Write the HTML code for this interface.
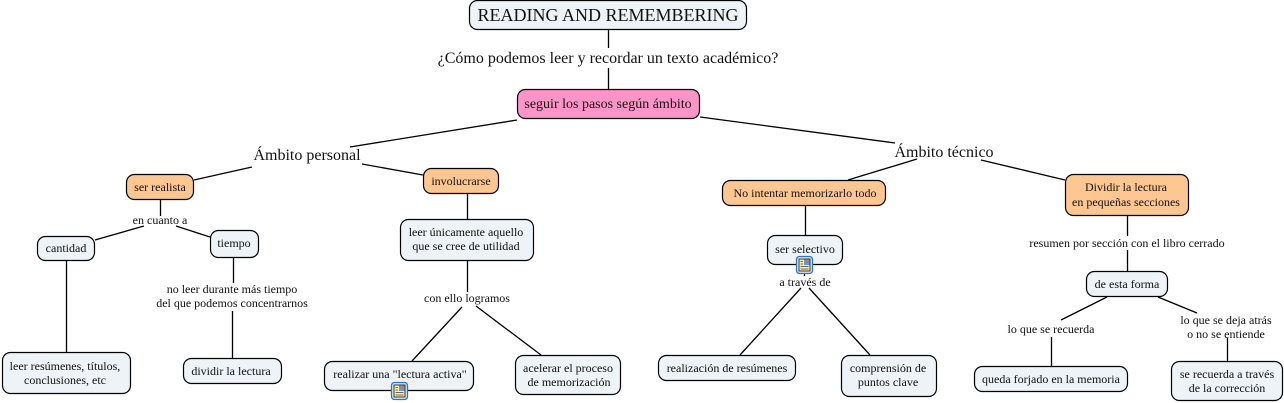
<!DOCTYPE html>
<html><head><meta charset="utf-8"><style>
html,body{margin:0;padding:0;background:#fff;width:1284px;height:403px;overflow:hidden}
svg{display:block}
text{font-family:"Liberation Serif",serif;fill:#111;text-anchor:middle}
.s{font-size:12px}.m{font-size:16px}.t{font-size:18px}.p{font-size:14px}
rect.n{fill:#edf3f6;stroke:#000;stroke-width:1.2}
rect.o{fill:#fec690;stroke:#000;stroke-width:1.2}
rect.k{fill:#ff94c8;stroke:#000;stroke-width:1.2}
line{stroke:#000;stroke-width:1.3}
#ic line{stroke:#444;stroke-width:.8}
</style></head><body>
<svg width="1284" height="403" viewBox="0 0 1284 403" xmlns="http://www.w3.org/2000/svg">
<defs><g id="ic">
<rect x="0.5" y="0.5" width="16" height="17" rx="3" fill="#dfeafa" stroke="#2f74c4" stroke-width="1.3"/>
<rect x="3" y="3" width="11" height="12" fill="#fdf3a8" stroke="#222" stroke-width=".9"/>
<rect x="8" y="3.5" width="5.5" height="5.5" fill="#6f96c4"/>
<rect x="10.5" y="4" width="2" height="2" fill="#d9704f"/>
<line x1="4.5" y1="5.5" x2="7" y2="5.5"/><line x1="4.5" y1="8" x2="7" y2="8"/><line x1="4.5" y1="10.5" x2="12.5" y2="10.5"/><line x1="4.5" y1="13" x2="12.5" y2="13"/>
</g></defs>
<line x1="608.5" y1="30" x2="608.5" y2="48"/><line x1="608.5" y1="68" x2="608.5" y2="89"/>
<line x1="517" y1="120" x2="350" y2="147"/><line x1="700" y1="117" x2="895" y2="143"/>
<line x1="252" y1="167" x2="194" y2="180"/><line x1="362" y1="164" x2="423" y2="175"/>
<line x1="917" y1="159" x2="848" y2="180"/><line x1="981" y1="160" x2="1065" y2="180"/>
<line x1="160.5" y1="199" x2="160.5" y2="216"/><line x1="144" y1="226" x2="95" y2="240"/><line x1="176" y1="226" x2="210" y2="237"/>
<line x1="66.5" y1="260" x2="66.5" y2="352"/><line x1="233.5" y1="257" x2="233.5" y2="283"/><line x1="232.5" y1="311" x2="232.5" y2="358"/>
<line x1="467.5" y1="193" x2="467.5" y2="219"/><line x1="467.5" y1="260" x2="467.5" y2="292"/>
<line x1="462" y1="307" x2="412" y2="361"/><line x1="476" y1="306" x2="541" y2="355"/>
<line x1="805.5" y1="205" x2="805.5" y2="235"/><line x1="804.5" y1="273" x2="804.5" y2="276"/>
<line x1="801" y1="288" x2="740" y2="355"/><line x1="809" y1="288" x2="870" y2="355"/>
<line x1="1127.5" y1="215" x2="1127.5" y2="236"/><line x1="1127.5" y1="250" x2="1127.5" y2="271"/>
<line x1="1107" y1="297" x2="1061" y2="320"/><line x1="1158" y1="297" x2="1197" y2="313"/>
<line x1="1051.5" y1="337" x2="1051.5" y2="366"/><line x1="1227.5" y1="338" x2="1227.5" y2="361"/>

<rect class="n" x="469.5" y="0.5" width="277" height="29" rx="8"/>
<rect class="k" x="517.5" y="89.5" width="182" height="29" rx="8"/>
<rect class="o" x="126.5" y="174.5" width="67" height="25" rx="8"/>
<rect class="n" x="37.5" y="236.5" width="57" height="24" rx="8"/>
<rect class="n" x="210.5" y="230.5" width="48" height="27" rx="8"/>
<rect class="n" x="2.5" y="352.5" width="128" height="41" rx="8"/>
<rect class="n" x="183.5" y="358.5" width="98" height="25" rx="8"/>
<rect class="o" x="423.5" y="168.5" width="75" height="25" rx="8"/>
<rect class="n" x="400.5" y="219.5" width="133" height="41" rx="8"/>
<rect class="n" x="324.5" y="361.5" width="149" height="29" rx="8"/>
<rect class="n" x="515.5" y="355.5" width="105" height="39" rx="8"/>
<rect class="o" x="722.5" y="180.5" width="163" height="25" rx="8"/>
<rect class="n" x="767.5" y="235.5" width="75" height="29" rx="8"/>
<rect class="n" x="658.5" y="355.5" width="137" height="25" rx="8"/>
<rect class="n" x="841.5" y="355.5" width="95" height="41" rx="8"/>
<rect class="o" x="1065.5" y="174.5" width="123" height="41" rx="8"/>
<rect class="n" x="1086.5" y="271.5" width="81" height="25" rx="8"/>
<rect class="n" x="974.5" y="366.5" width="153" height="25" rx="8"/>
<rect class="n" x="1171.5" y="361.5" width="111" height="39" rx="8"/>

<use href="#ic" x="391" y="382"/><use href="#ic" x="796" y="256"/>

<text class="t" x="608" y="21">READING AND REMEMBERING</text>
<text class="m" x="608" y="63">¿Cómo podemos leer y recordar un texto académico?</text>
<text class="p" x="608" y="108">seguir los pasos según ámbito</text>
<text class="m" x="307" y="160">Ámbito personal</text>
<text class="m" x="944" y="157">Ámbito técnico</text>
<text class="s" x="160" y="191">ser realista</text>
<text class="s" x="160" y="224">en cuanto a</text>
<text class="s" x="66" y="252">cantidad</text>
<text class="s" x="234" y="247">tiempo</text>
<text class="s" x="232" y="293">no leer durante más tiempo</text>
<text class="s" x="232" y="307">del que podemos concentrarnos</text>
<text class="s" x="65" y="370">leer resúmenes, títulos,</text>
<text class="s" x="65" y="384">conclusiones, etc</text>
<text class="s" x="231" y="375">dividir la lectura</text>
<text class="s" x="461" y="185">involucrarse</text>
<text class="s" x="466" y="236">leer únicamente aquello</text>
<text class="s" x="466" y="250">que se cree de utilidad</text>
<text class="s" x="467" y="302">con ello logramos</text>
<text class="s" x="400" y="378">realizar una "lectura activa"</text>
<text class="s" x="568" y="372">acelerar el proceso</text>
<text class="s" x="569" y="386">de memorización</text>
<text class="s" x="805" y="197">No intentar memorizarlo todo</text>
<text class="s" x="805" y="253">ser selectivo</text>
<text class="s" x="805" y="286">a través de</text>
<text class="s" x="727" y="372">realización de resúmenes</text>
<text class="s" x="888" y="372">comprensión de</text>
<text class="s" x="888" y="386">puntos clave</text>
<text class="s" x="1126" y="191">Dividir la lectura</text>
<text class="s" x="1126" y="206">en pequeñas secciones</text>
<text class="s" x="1127" y="247">resumen por sección con el libro cerrado</text>
<text class="s" x="1127" y="288">de esta forma</text>
<text class="s" x="1051" y="333">lo que se recuerda</text>
<text class="s" x="1226" y="324">lo que se deja atrás</text>
<text class="s" x="1226" y="338">o no se entiende</text>
<text class="s" x="1051" y="383">queda forjado en la memoria</text>
<text class="s" x="1227" y="378">se recuerda a través</text>
<text class="s" x="1227" y="392">de la corrección</text>
</svg>
</body></html>
